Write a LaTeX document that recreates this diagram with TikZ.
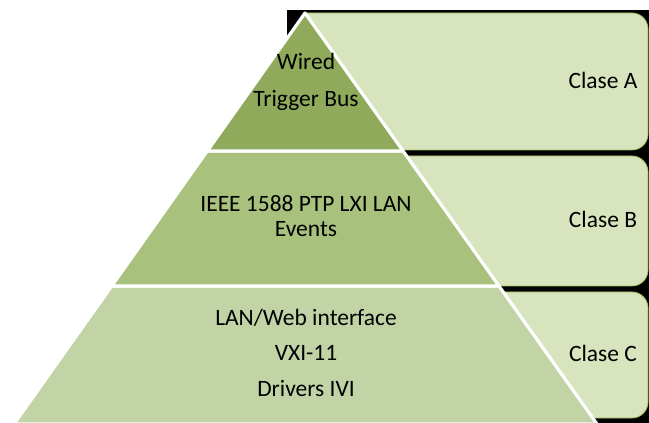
\documentclass[tikz,border=0pt]{standalone}
\usepackage{fontspec}
\setmainfont{Carlito}
\usepackage{tikz}
\usetikzlibrary{calc}
\usetikzlibrary{positioning}
\definecolor{boxgreen}{HTML}{D7E4BD}
\definecolor{boxline}{HTML}{9BBB59}
\definecolor{topgreen}{HTML}{8FAA5A}
\definecolor{midgreen}{HTML}{A8C17D}
\definecolor{lowgreen}{HTML}{C2D3A6}
\newlength{\pxunit}
\setlength{\pxunit}{0.75pt}
\tikzstyle{boxstyle}=[fill=boxgreen, draw=boxline, line width=0.6pt]
\tikzstyle{layerstyle}=[draw=white, line width=2.4pt, line join=round]
\tikzstyle{layertext}=[font=\fontsize{17.6}{21}\selectfont, text=black, inner sep=0pt, anchor=base]
\newcommand{\clasebox}[4]{%
  \draw [boxstyle] (306,#2) -- (632,#2) arc[start angle=-90, end angle=0, radius=16]
    -- ($(648,#3)+(0,-16)$) arc[start angle=0, end angle=90, radius=16] -- (306,#3) -- cycle;
  \node [layertext] (#1) at (603,{(#2+#3)/2+7}) {#4};}

\begin{document}
\begin{tikzpicture}[x=\pxunit, y=-\pxunit]
\useasboundingbox (0,0) rectangle (649,423);
\fill [black] (287,10) rectangle (649,424);
% boxes on the right
\clasebox{claseA}{13}{150}{Clase A}
\clasebox{claseB}{156}{286}{Clase B}
\clasebox{claseC}{292}{418}{Clase C}
% pyramid
\coordinate (apex) at (305,13);
\coordinate (bl) at (14,424);
\coordinate (br) at (597,424);
\path [layerstyle, fill=lowgreen] ($(apex)!0.664!(bl)$) -- (bl) -- (br) -- ($(apex)!0.664!(br)$) -- cycle;
\path [layerstyle, fill=midgreen] ($(apex)!0.336!(bl)$) -- ($(apex)!0.664!(bl)$) -- ($(apex)!0.664!(br)$) -- ($(apex)!0.336!(br)$) -- cycle;
\path [layerstyle, fill=topgreen] (apex) -- ($(apex)!0.336!(bl)$) -- ($(apex)!0.336!(br)$) -- cycle;
% texts
\node [layertext] (wired) at (306,70) {Wired};
\node [layertext] (trigger) at (306,107) {Trigger Bus};
\node [layertext] (ieee) at (306,212) {IEEE 1588 PTP LXI LAN};
\node [layertext] (events) at (306,237) {Events};
\node [layertext] (lanweb) at (306,326) {LAN/Web interface};
\node [layertext] (vxi) at (306,361) {VXI-11};
\node [layertext] (drivers) at (306,397) {Drivers IVI};
\end{tikzpicture}
\end{document}
